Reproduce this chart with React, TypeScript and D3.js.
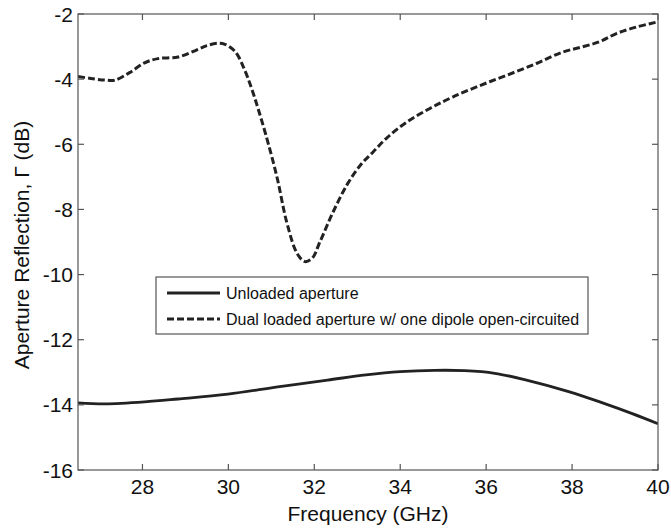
import React from "react";
import * as d3 from "d3";

const freqDual = [26.5, 26.8, 27.13, 27.36, 27.7, 28.05, 28.36, 28.83, 29.22, 29.5, 29.75, 29.92, 30.1, 30.22, 30.34, 30.45, 30.57, 30.69, 30.87, 31.13, 31.36, 31.6, 31.78, 31.95, 32.13, 32.43, 32.78, 33.1, 33.36, 33.69, 34.15, 34.69, 35.22, 35.85, 36.48, 37.17, 37.78, 38.24, 38.64, 39.03, 39.5, 40];
const dualLoaded = [-3.92, -3.98, -4.03, -4.03, -3.8, -3.5, -3.37, -3.32, -3.13, -2.97, -2.9, -2.93, -3.08, -3.27, -3.6, -3.95, -4.4, -4.9, -5.7, -7.0, -8.4, -9.35, -9.6, -9.5, -9.0, -8.1, -7.2, -6.6, -6.25, -5.8, -5.32, -4.9, -4.55, -4.2, -3.88, -3.52, -3.17, -3.01, -2.85, -2.6, -2.4, -2.24];

const freqUnloaded = [26.5, 27.13, 28.05, 28.83, 29.99, 31.15, 32.31, 33.2, 34.0, 34.8, 35.5, 36.2, 36.94, 37.94, 38.71, 39.4, 40];
const unloaded = [-13.94, -13.97, -13.91, -13.82, -13.67, -13.45, -13.24, -13.08, -12.98, -12.94, -12.95, -13.03, -13.24, -13.6, -13.94, -14.27, -14.58];

const xTicks = [28, 30, 32, 34, 36, 38, 40];
const yTicks = [-2, -4, -6, -8, -10, -12, -14, -16];
const legendLabels = ["Unloaded aperture", "Dual loaded aperture w/ one dipole open-circuited"];

export default function App() {
  const W = 671, H = 529;
  const L = 78, R = 658, T = 14, B = 470;
  const x = d3.scaleLinear().domain([26.5, 40]).range([L, R]);
  const y = d3.scaleLinear().domain([-16, -2]).range([B, T]);
  const line = d3.line<[number, number]>().x(d => x(d[0])).y(d => y(d[1])).curve(d3.curveCatmullRom.alpha(0.5));
  const dualPts = freqDual.map((f, i) => [f, dualLoaded[i]] as [number, number]);
  const unPts = freqUnloaded.map((f, i) => [f, unloaded[i]] as [number, number]);
  const axisColor = "#555";
  const curveColor = "#222";
  const tl = 6;
  const font = "Liberation Sans, Arial, sans-serif";
  return (
    <svg width={W} height={H} style={{ position: "absolute", left: 0, top: 0, background: "#fff" }} fontFamily={font}>
      <rect x={0} y={0} width={W} height={H} fill="#fff" />
      <defs>
        <clipPath id="plotclip"><rect x={L} y={T} width={R - L} height={B - T} /></clipPath>
      </defs>
      <g clipPath="url(#plotclip)">
        <path d={line(unPts) || ""} fill="none" stroke={curveColor} strokeWidth={2.8} />
        <path d={line(dualPts) || ""} fill="none" stroke={curveColor} strokeWidth={3} strokeDasharray="7,3" />
      </g>
      <rect x={L} y={T} width={R - L} height={B - T} fill="none" stroke={axisColor} strokeWidth={1.2} />
      {xTicks.map(t => (
        <g key={"x" + t}>
          <line x1={x(t)} x2={x(t)} y1={B} y2={B - tl} stroke={axisColor} strokeWidth={1.2} />
          <line x1={x(t)} x2={x(t)} y1={T} y2={T + tl} stroke={axisColor} strokeWidth={1.2} />
          <text x={x(t)} y={B + 24} fontSize={21} textAnchor="middle" fill="#111">{t}</text>
        </g>
      ))}
      {yTicks.map(t => (
        <g key={"y" + t}>
          <line x1={L} x2={L + tl} y1={y(t)} y2={y(t)} stroke={axisColor} strokeWidth={1.2} />
          <line x1={R} x2={R - tl} y1={y(t)} y2={y(t)} stroke={axisColor} strokeWidth={1.2} />
          <text x={L - 5} y={y(t) + 7.5} fontSize={21} textAnchor="end" fill="#111">{t}</text>
        </g>
      ))}
      <text x={(L + R) / 2} y={521} fontSize={21} textAnchor="middle" fill="#111">Frequency (GHz)</text>
      <text transform={`translate(29, ${(T + B) / 2 + 3}) rotate(-90)`} fontSize={21} textAnchor="middle" fill="#111">Aperture Reflection, Γ (dB)</text>
      <g>
        <rect x={156} y={277} width={432} height={57} fill="#fff" stroke={axisColor} strokeWidth={1.2} />
        <line x1={167} x2={220} y1={293} y2={293} stroke={curveColor} strokeWidth={2.8} />
        <line x1={167} x2={220} y1={319} y2={319} stroke={curveColor} strokeWidth={3} strokeDasharray="7,3" />
        <text x={226} y={299} fontSize={16} fill="#111">{legendLabels[0]}</text>
        <text x={226} y={325} fontSize={16} fill="#111">{legendLabels[1]}</text>
      </g>
    </svg>
  );
}
